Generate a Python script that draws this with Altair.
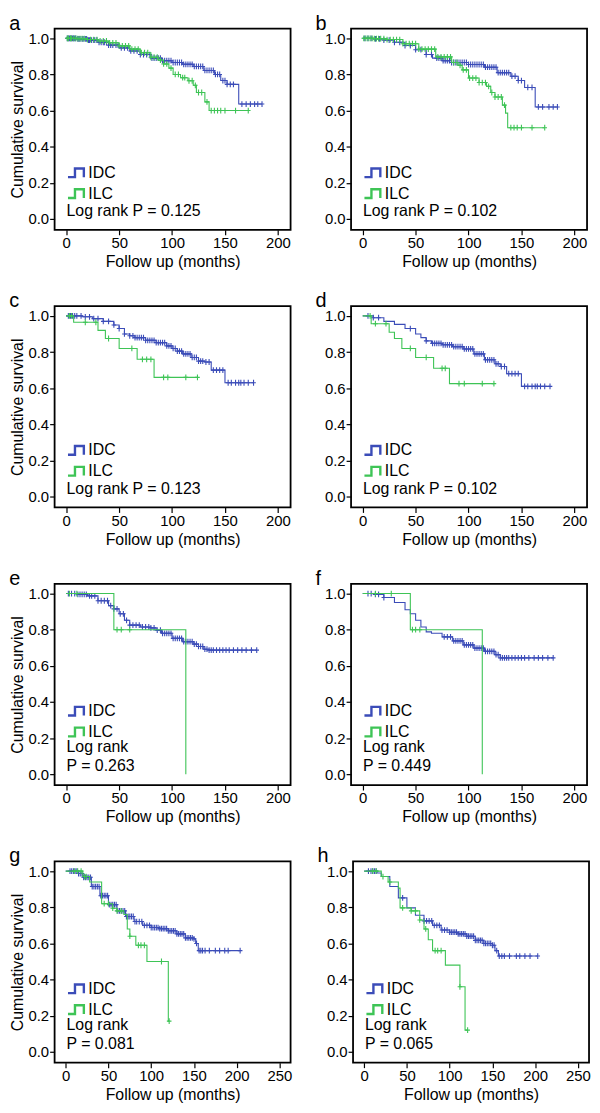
import altair as alt
import pandas as pd

FONT = "Liberation Sans"
IDC_BLUE = "#3b4cb8"
ILC_GREEN = "#3ec456"
GROUPS = ["IDC", "ILC"]

# ---------- panel a ----------
A_IDC_T = [0, 10, 20, 30, 40, 50, 60, 70, 80, 90, 100, 110, 120, 130, 140, 146, 152, 163, 185]
A_IDC_S = [1.0, 0.997, 0.99, 0.978, 0.962, 0.947, 0.93, 0.91, 0.89, 0.876, 0.866, 0.856, 0.844, 0.822, 0.80, 0.766, 0.745, 0.636, 0.636]
A_IDC_C = [1, 2, 3, 4, 5, 6, 7, 8, 9, 11, 12, 13, 15, 16, 18, 19, 21, 22, 24, 26, 27, 29, 31, 33, 35, 36, 38, 40, 42, 44, 47, 49, 52, 55, 58, 61, 64, 67, 70, 73, 76, 79, 81, 83, 85, 87, 89, 91, 93, 95, 97, 99, 101, 103, 105, 107, 109, 111, 113, 115, 117, 119, 121, 123, 125, 127, 129, 131, 133, 135, 137, 139, 141, 143, 145, 148, 150, 152, 155, 158, 166, 170, 174, 178, 181, 185]
A_ILC_T = [0, 10, 20, 30, 40, 50, 60, 70, 80, 87, 92, 97, 101, 108, 115, 120, 123, 131, 135, 173]
A_ILC_S = [1.0, 0.998, 0.993, 0.985, 0.975, 0.958, 0.94, 0.92, 0.895, 0.879, 0.858, 0.835, 0.80, 0.782, 0.765, 0.74, 0.70, 0.648, 0.60, 0.60]
A_ILC_C = [1, 2, 4, 5, 7, 9, 11, 13, 15, 17, 20, 23, 26, 29, 32, 35, 38, 41, 44, 47, 50, 53, 56, 59, 62, 65, 68, 71, 74, 77, 80, 83, 86, 89, 92, 95, 99, 103, 106, 110, 112, 116, 119, 122, 125, 128, 133, 137, 140, 143, 146, 150, 160, 172]

# ---------- panel b ----------
B_IDC_T = [0, 10, 20, 30, 40, 50, 60, 66, 75, 84, 100, 115, 127, 140, 147, 153, 163, 184]
B_IDC_S = [1.0, 0.997, 0.99, 0.978, 0.96, 0.937, 0.91, 0.89, 0.876, 0.866, 0.855, 0.84, 0.81, 0.79, 0.766, 0.728, 0.62, 0.62]
B_IDC_C = [2, 5, 8, 12, 16, 20, 25, 30, 35, 40, 45, 50, 55, 60, 65, 70, 72, 74, 76, 78, 80, 82, 84, 86, 88, 90, 92, 94, 96, 98, 100, 102, 104, 106, 108, 110, 112, 114, 116, 118, 120, 122, 124, 126, 128, 130, 132, 134, 136, 138, 141, 144, 147, 150, 156, 160, 166, 170, 176, 180, 184]
B_ILC_T = [0, 10, 23, 38, 53, 69, 84, 90, 94, 100, 110, 117, 121, 125, 132, 135, 137, 172]
B_ILC_S = [1.0, 0.998, 0.993, 0.97, 0.94, 0.897, 0.866, 0.85, 0.825, 0.78, 0.755, 0.734, 0.70, 0.675, 0.63, 0.586, 0.505, 0.505]
B_ILC_C = [1, 3, 5, 7, 9, 11, 13, 15, 17, 20, 23, 26, 29, 32, 35, 38, 41, 44, 47, 50, 53, 56, 59, 62, 65, 68, 71, 74, 77, 80, 83, 86, 89, 92, 95, 98, 101, 104, 107, 110, 113, 116, 119, 122, 125, 128, 131, 134, 140, 143, 146, 150, 160, 172]

# ---------- panel c ----------
C_IDC_T = [0, 15, 25, 35, 45, 50, 55, 60, 65, 75, 85, 95, 100, 105, 110, 118, 125, 131, 137, 150, 177]
C_IDC_S = [1.0, 0.995, 0.985, 0.97, 0.95, 0.93, 0.90, 0.89, 0.88, 0.865, 0.852, 0.834, 0.82, 0.805, 0.79, 0.77, 0.75, 0.745, 0.70, 0.63, 0.63]
C_IDC_C = [2, 4, 6, 8, 10, 14, 18, 22, 26, 30, 35, 40, 45, 50, 55, 60, 63, 65, 67, 69, 71, 73, 75, 77, 79, 81, 83, 85, 87, 89, 91, 93, 95, 97, 99, 101, 103, 105, 107, 109, 111, 113, 115, 117, 119, 121, 123, 125, 127, 129, 132, 135, 139, 142, 145, 148, 153, 156, 160, 163, 165, 168, 172, 177]
C_ILC_T = [0, 7, 30, 37, 50, 67, 83, 124]
C_ILC_S = [1.0, 0.965, 0.92, 0.875, 0.82, 0.76, 0.66, 0.66]
C_ILC_C = [3, 5, 18, 28, 40, 62, 72, 76, 80, 92, 96, 113, 124]

# ---------- panel d ----------
D_IDC_T = [0, 10, 20, 30, 40, 50, 55, 60, 65, 75, 85, 95, 105, 115, 125, 130, 136, 150, 177]
D_IDC_S = [1.0, 0.99, 0.97, 0.953, 0.93, 0.90, 0.88, 0.862, 0.848, 0.84, 0.83, 0.817, 0.79, 0.757, 0.735, 0.72, 0.68, 0.61, 0.61]
D_IDC_C = [5, 10, 15, 45, 60, 66, 68, 70, 72, 74, 76, 78, 80, 82, 84, 86, 88, 90, 92, 94, 96, 98, 100, 102, 104, 106, 108, 110, 112, 114, 116, 118, 120, 122, 124, 126, 128, 131, 134, 138, 141, 144, 147, 153, 156, 160, 163, 165, 168, 172, 177]
D_ILC_T = [0, 8, 25, 30, 37, 50, 67, 82, 124]
D_ILC_S = [1.0, 0.957, 0.91, 0.875, 0.82, 0.77, 0.71, 0.625, 0.625]
D_ILC_C = [7, 12, 22, 45, 60, 75, 78, 91, 96, 113, 124]

# ---------- panel e ----------
E_IDC_T = [0, 10, 20, 30, 40, 45, 50, 55, 60, 70, 80, 85, 90, 100, 110, 120, 125, 130, 135, 180]
E_IDC_S = [1.0, 0.995, 0.987, 0.96, 0.933, 0.915, 0.888, 0.852, 0.825, 0.815, 0.81, 0.797, 0.78, 0.752, 0.734, 0.72, 0.707, 0.692, 0.687, 0.687]
E_IDC_C = [2, 5, 8, 11, 13, 15, 17, 19, 22, 24, 27, 30, 33, 36, 39, 42, 45, 48, 51, 54, 57, 60, 63, 66, 69, 72, 75, 78, 80, 83, 86, 89, 91, 93, 95, 97, 99, 101, 103, 105, 107, 109, 111, 113, 115, 117, 119, 121, 123, 125, 127, 129, 131, 133, 135, 137, 139, 142, 145, 148, 151, 154, 158, 162, 166, 170, 175, 180]
E_ILC_T = [0, 45, 113]
E_ILC_S = [1.0, 0.80, 0.0]
E_ILC_C = [3, 10, 48, 52, 60]

# ---------- panel f ----------
F_IDC_T = [0, 10, 20, 30, 40, 45, 50, 55, 60, 65, 75, 85, 95, 105, 115, 125, 130, 180]
F_IDC_S = [1.0, 0.995, 0.978, 0.95, 0.91, 0.888, 0.852, 0.815, 0.788, 0.78, 0.76, 0.738, 0.716, 0.698, 0.68, 0.662, 0.644, 0.644]
F_IDC_C = [5, 8, 12, 15, 20, 77, 80, 83, 86, 88, 90, 92, 94, 96, 98, 100, 102, 104, 106, 108, 110, 112, 114, 116, 118, 120, 122, 124, 126, 128, 130, 132, 134, 136, 138, 141, 144, 147, 150, 153, 157, 162, 166, 170, 175, 180]
F_ILC_T = [0, 45, 113]
F_ILC_S = [1.0, 0.80, 0.0]
F_ILC_C = [12, 27, 47, 50, 54]

# ---------- panel g ----------
G_IDC_T = [0, 12, 15, 20, 30, 40, 50, 60, 70, 80, 90, 100, 110, 120, 130, 140, 150, 152, 155, 204]
G_IDC_S = [1.0, 1.0, 0.987, 0.966, 0.915, 0.864, 0.815, 0.78, 0.749, 0.721, 0.70, 0.688, 0.682, 0.67, 0.653, 0.631, 0.625, 0.60, 0.56, 0.56]
G_IDC_C = [5, 7, 9, 11, 13, 15, 17, 19, 21, 23, 25, 27, 29, 31, 33, 35, 37, 39, 41, 43, 45, 47, 49, 51, 53, 55, 57, 59, 61, 63, 65, 67, 69, 71, 73, 75, 77, 79, 81, 83, 86, 89, 92, 95, 98, 100, 102, 104, 106, 108, 110, 112, 114, 116, 118, 120, 122, 124, 126, 128, 130, 132, 134, 136, 138, 140, 142, 144, 146, 148, 150, 153, 156, 158, 160, 163, 168, 175, 180, 186, 190, 204]
G_ILC_T = [0, 20, 28, 42, 55, 60, 68, 72, 75, 82, 95, 120, 121]
G_ILC_S = [1.0, 0.97, 0.94, 0.82, 0.795, 0.78, 0.76, 0.68, 0.64, 0.59, 0.50, 0.17, 0.17]
G_ILC_C = [10, 14, 18, 22, 24, 45, 50, 55, 60, 65, 75, 85, 88, 92, 112, 121]

# ---------- panel h ----------
H_IDC_T = [0, 12, 15, 20, 30, 40, 50, 60, 70, 80, 90, 100, 110, 120, 130, 140, 150, 153, 157, 203]
H_IDC_S = [1.0, 1.0, 0.99, 0.97, 0.915, 0.852, 0.797, 0.756, 0.725, 0.70, 0.674, 0.662, 0.653, 0.64, 0.617, 0.60, 0.59, 0.56, 0.53, 0.53]
H_IDC_C = [5, 8, 10, 12, 14, 45, 70, 73, 76, 79, 82, 85, 88, 91, 94, 97, 100, 102, 104, 106, 108, 110, 112, 114, 116, 118, 120, 122, 124, 126, 128, 130, 132, 134, 136, 138, 140, 142, 144, 146, 148, 150, 152, 155, 158, 161, 164, 170, 178, 182, 188, 194, 203]
H_ILC_T = [0, 20, 28, 40, 42, 55, 65, 70, 75, 80, 95, 112, 118, 121]
H_ILC_S = [1.0, 0.97, 0.94, 0.906, 0.797, 0.78, 0.73, 0.68, 0.62, 0.56, 0.48, 0.36, 0.12, 0.12]
H_ILC_C = [10, 14, 22, 30, 45, 55, 60, 65, 72, 83, 86, 90, 112, 121]

PANELS = [
    ("a", (A_IDC_T, A_IDC_S, A_IDC_C), (A_ILC_T, A_ILC_S, A_ILC_C), ["Log rank P = 0.125"], 200),
    ("b", (B_IDC_T, B_IDC_S, B_IDC_C), (B_ILC_T, B_ILC_S, B_ILC_C), ["Log rank P = 0.102"], 200),
    ("c", (C_IDC_T, C_IDC_S, C_IDC_C), (C_ILC_T, C_ILC_S, C_ILC_C), ["Log rank P = 0.123"], 200),
    ("d", (D_IDC_T, D_IDC_S, D_IDC_C), (D_ILC_T, D_ILC_S, D_ILC_C), ["Log rank P = 0.102"], 200),
    ("e", (E_IDC_T, E_IDC_S, E_IDC_C), (E_ILC_T, E_ILC_S, E_ILC_C), ["Log rank", "P = 0.263"], 200),
    ("f", (F_IDC_T, F_IDC_S, F_IDC_C), (F_ILC_T, F_ILC_S, F_ILC_C), ["Log rank", "P = 0.449"], 200),
    ("g", (G_IDC_T, G_IDC_S, G_IDC_C), (G_ILC_T, G_ILC_S, G_ILC_C), ["Log rank", "P = 0.081"], 250),
    ("h", (H_IDC_T, H_IDC_S, H_IDC_C), (H_ILC_T, H_ILC_S, H_ILC_C), ["Log rank", "P = 0.065"], 250),
]

GLYPH = "M-1,0.55L-0.12,0.55L-0.12,-0.55L1,-0.55L1,0.55"
PLUS = "M0,-1L0,1M-0.8,0L0.8,0"
W, H = 238, 203


def step_value(ts, ss, t):
    v = ss[0]
    for ti, si in zip(ts, ss):
        if ti <= t:
            v = si
        else:
            break
    return v


def make_panel(letter, idc, ilc, ptext, xmax, left):
    xdom = [-11, 212] if xmax == 200 else [-13, 263]
    xticks = [0, 50, 100, 150, 200] if xmax == 200 else [0, 50, 100, 150, 200, 250]
    x_enc = alt.X("t:Q", scale=alt.Scale(domain=xdom, nice=False, zero=False),
                  axis=alt.Axis(values=xticks, title="Follow up (months)", format="d"))
    y_enc = alt.Y("s:Q", scale=alt.Scale(domain=[-0.06, 1.054], nice=False, zero=False),
                  axis=alt.Axis(values=[0, 0.2, 0.4, 0.6, 0.8, 1.0], format=".1f",
                                title="Cumulative survival" if left else None))
    two = len(ptext) == 2
    leg = alt.Legend(orient="none", legendX=12, legendY=119 if two else 136, title=None,
                     symbolType=GLYPH, symbolSize=256, symbolStrokeWidth=2.4,
                     symbolFillColor="transparent",
                     labelFontSize=16, labelFont=FONT, labelColor="black",
                     rowPadding=2, labelOffset=3, padding=0)
    cscale = alt.Scale(domain=GROUPS, range=[IDC_BLUE, ILC_GREEN])
    layers = []
    for g, (ts, ss, cs), col in (("IDC", idc, IDC_BLUE), ("ILC", ilc, ILC_GREEN)):
        ldf = pd.DataFrame({"t": ts, "s": ss, "group": g})
        cdf = pd.DataFrame({"t": cs, "s": [step_value(ts, ss, c) for c in cs]})
        layers.append(alt.Chart(ldf).mark_line(interpolate="step-after", strokeWidth=1.1).encode(
            x=x_enc, y=y_enc, color=alt.Color("group:N", scale=cscale, legend=leg)))
        layers.append(alt.Chart(cdf).mark_point(shape=PLUS, size=34, filled=False, strokeWidth=1.1,
                                                 opacity=1).encode(
            x=x_enc, y=y_enc, color=alt.value(col)))
    ys = [165, 184] if two else [184]
    for txt, yy in zip(ptext, ys):
        layers.append(alt.Chart(pd.DataFrame({"label": [txt]})).mark_text(
            align="left", baseline="middle", fontSize=16, font=FONT, color="black").encode(
            text="label:N", x=alt.value(12), y=alt.value(yy)))
    return alt.layer(*layers).properties(
        width=W, height=H,
        title=alt.TitleParams(text=letter, anchor="start", fontSize=20, font=FONT,
                              fontWeight="normal", color="black", offset=-5,
                              dx=0 if left else -9))


rows = []
for i in range(0, 8, 2):
    l = make_panel(*PANELS[i], left=True)
    r = make_panel(*PANELS[i + 1], left=False)
    rows.append(alt.hconcat(l, r, spacing=23).resolve_scale(color="independent"))

chart = alt.vconcat(*rows, spacing=20).resolve_scale(color="independent").properties(
    padding=0
).configure_view(stroke="black", strokeWidth=1.8).configure_axis(
    domain=False, grid=False, tickColor="black", tickSize=5, tickWidth=1.2,
    labelFont=FONT, labelFontSize=15, labelColor="black", labelPadding=1,
    titleFont=FONT, titleFontSize=16, titleColor="black", titleFontWeight="normal",
    titlePadding=3,
)

chart.save("out.html", embed_options={"renderer": "svg", "actions": False})
